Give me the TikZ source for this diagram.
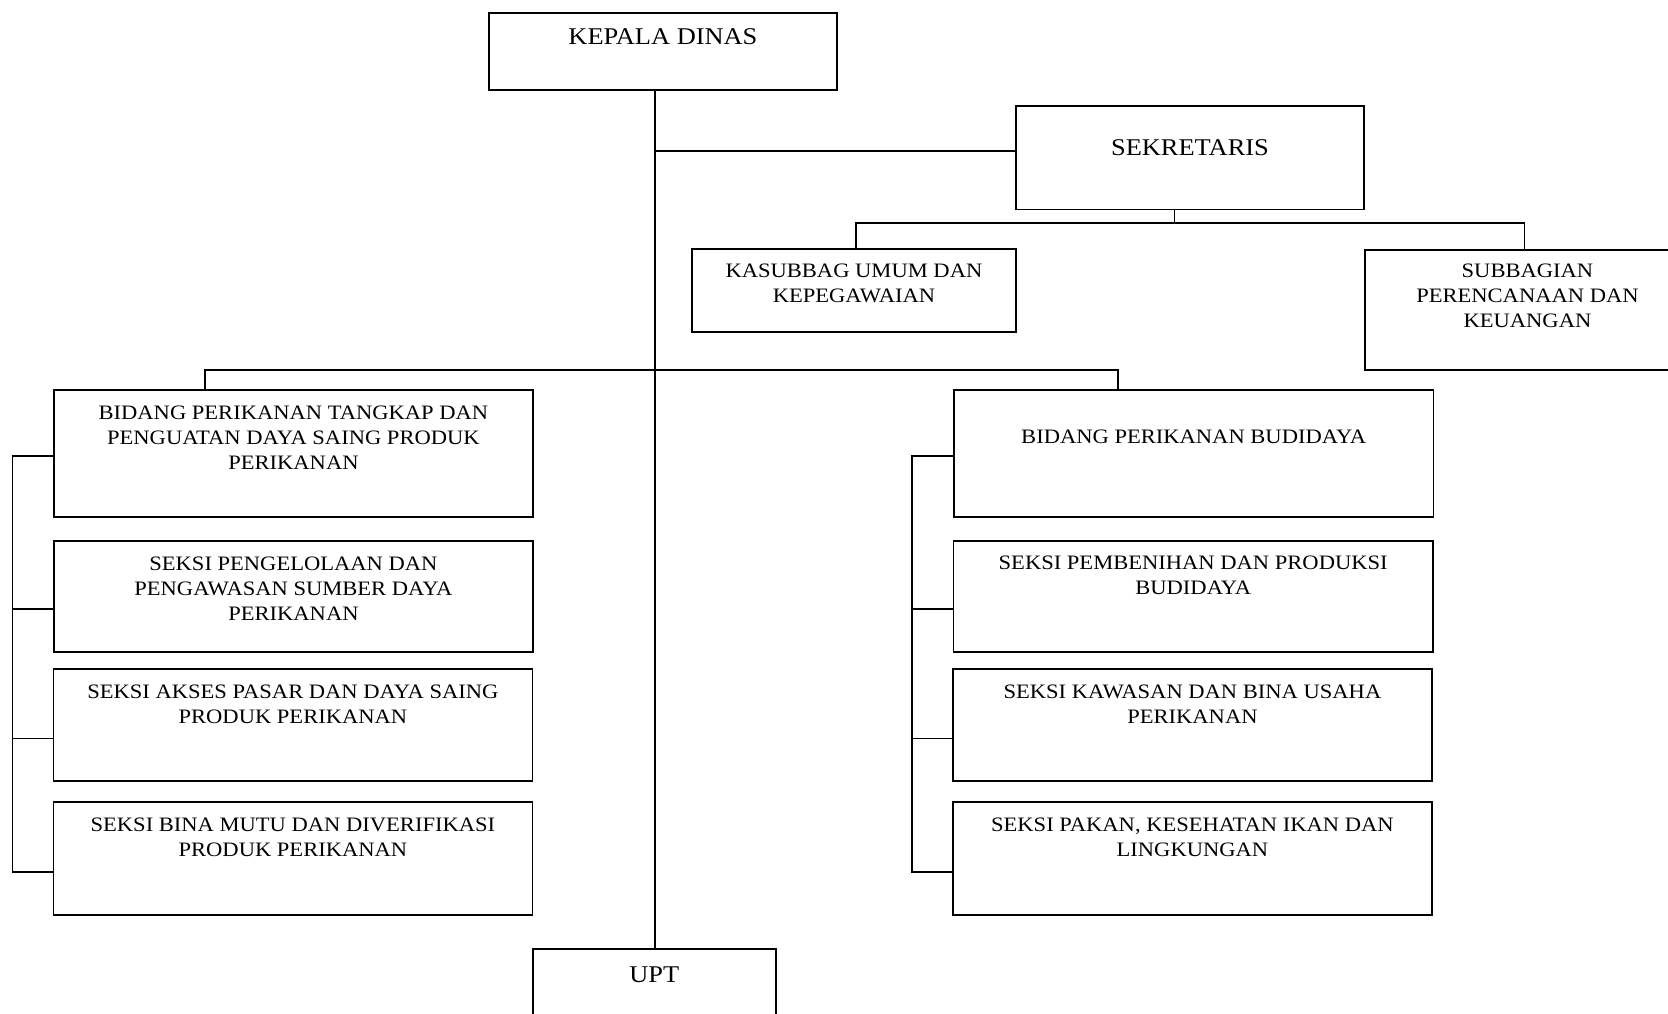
\documentclass[tikz,border=0pt]{standalone}
\usepackage{fontspec}
\setmainfont[FakeStretch=1.1]{Liberation Serif}
\begin{document}
\begin{tikzpicture}[x=1pt,y=-1pt]
\tikzset{
 box/.style={draw, line width=1.9pt, inner sep=0pt, anchor=north west},
 txt/.style={anchor=north, inner sep=0pt, align=center, font=\fontsize{20.5}{25}\selectfont},
 big/.style={anchor=north, inner sep=0pt, align=center, font=\fontsize{24}{29}\selectfont},
 conn/.style={line width=1.9pt}
}
\useasboundingbox (0,0) rectangle (1668,1013);
% boxes
\node[box, minimum width=348pt, minimum height=77pt] (KD) at (488,12) {};
\node[box, minimum width=348pt, minimum height=103.5pt] (SEK) at (1015,105) {};
\node[box, minimum width=324pt, minimum height=83pt] (KAS) at (691,248) {};
\node[box, minimum width=325pt, minimum height=120pt] (SUB) at (1364,249) {};
\node[box, minimum width=479pt, minimum height=127pt] (LB) at (53,388.6) {};
\node[box, minimum width=479pt, minimum height=111.5pt] (LS1) at (53,539.6) {};
\node[box, minimum width=479pt, minimum height=112.4pt] (LS2) at (52.5,668) {};
\node[box, minimum width=479pt, minimum height=112.6pt] (LS3) at (52.5,801) {};
\node[box, minimum width=479.5pt, minimum height=127pt] (RB) at (953,388.6) {};
\node[box, minimum width=479.5pt, minimum height=111.5pt] (RS1) at (952.5,539.6) {};
\node[box, minimum width=479pt, minimum height=112.4pt] (RS2) at (952,668) {};
\node[box, minimum width=479pt, minimum height=112.6pt] (RS3) at (952,801) {};
\node[box, minimum width=243.3pt, minimum height=100pt] (UPT) at (531.7,948.3) {};
% texts
\node[big] (tKD) at ([yshift=-16.5pt]KD.north) {KEPALA DINAS};
\node[big] (tSEK) at ([yshift=-34pt]SEK.north) {SEKRETARIS};
\node[txt] (tKAS) at ([yshift=-16pt]KAS.north) {KASUBBAG UMUM DAN\\KEPEGAWAIAN};
\node[txt] (tSUB) at ([yshift=-15pt]SUB.north) {SUBBAGIAN\\PERENCANAAN DAN\\KEUANGAN};
\node[txt] (tLB) at ([yshift=-17.5pt]LB.north) {BIDANG PERIKANAN TANGKAP DAN\\PENGUATAN DAYA SAING PRODUK\\PERIKANAN};
\node[txt] (tLS1) at ([yshift=-17pt]LS1.north) {SEKSI PENGELOLAAN DAN\\PENGAWASAN SUMBER DAYA\\PERIKANAN};
\node[txt] (tLS2) at ([yshift=-17pt]LS2.north) {SEKSI AKSES PASAR DAN DAYA SAING\\PRODUK PERIKANAN};
\node[txt] (tLS3) at ([yshift=-16.5pt]LS3.north) {SEKSI BINA MUTU DAN DIVERIFIKASI\\PRODUK PERIKANAN};
\node[txt] (tRB) at ([yshift=-41.5pt]RB.north) {BIDANG PERIKANAN BUDIDAYA};
\node[txt] (tRS1) at ([yshift=-16.5pt]RS1.north) {SEKSI PEMBENIHAN DAN PRODUKSI\\BUDIDAYA};
\node[txt] (tRS2) at ([yshift=-17pt]RS2.north) {SEKSI KAWASAN DAN BINA USAHA\\PERIKANAN};
\node[txt] (tRS3) at ([yshift=-16.5pt]RS3.north) {SEKSI PAKAN, KESEHATAN IKAN DAN\\LINGKUNGAN};
\node[big] (tUPT) at ([yshift=-18pt]UPT.north) {UPT};
% connector coordinates
\coordinate (tr) at (655,0);
\coordinate (sj) at (655,151);
\coordinate (sx) at (1174.5,223.4);
\coordinate (kl) at (856,223.4);
\coordinate (kr) at (1524.5,223.4);
\coordinate (bl) at (204.6,369.6);
\coordinate (br) at (1118,369.6);
\coordinate (ls) at (12.5,0);
\coordinate (rs) at (912,0);
% connectors
\draw[conn] (KD.south -| tr) -- (UPT.north -| tr);
\draw[conn] (sj) -- (SEK.west |- sj);
\draw[conn] (SEK.south -| sx) -- (sx);
\draw[conn] (KAS.north -| kl) -- (kl) -- (kr) -- (SUB.north -| kr);
\draw[conn] (LB.north -| bl) -- (bl) -- (br) -- (RB.north -| br);
% left spine
\draw[conn] ([yshift=-2.6pt]LB.west) -| ([yshift=-13.4pt]LS3.west -| ls) -- ([yshift=-13.4pt]LS3.west);
\draw[conn] ([yshift=-13pt]LS1.west) -- ([yshift=-13pt]LS1.west -| ls);
\draw[conn] ([yshift=-13.3pt]LS2.west) -- ([yshift=-13.3pt]LS2.west -| ls);
% right spine
\draw[conn] ([yshift=-2.6pt]RB.west) -| ([yshift=-13.4pt]RS3.west -| rs) -- ([yshift=-13.4pt]RS3.west);
\draw[conn] ([yshift=-13pt]RS1.west) -- ([yshift=-13pt]RS1.west -| rs);
\draw[conn] ([yshift=-13.3pt]RS2.west) -- ([yshift=-13.3pt]RS2.west -| rs);
\end{tikzpicture}
\end{document}
